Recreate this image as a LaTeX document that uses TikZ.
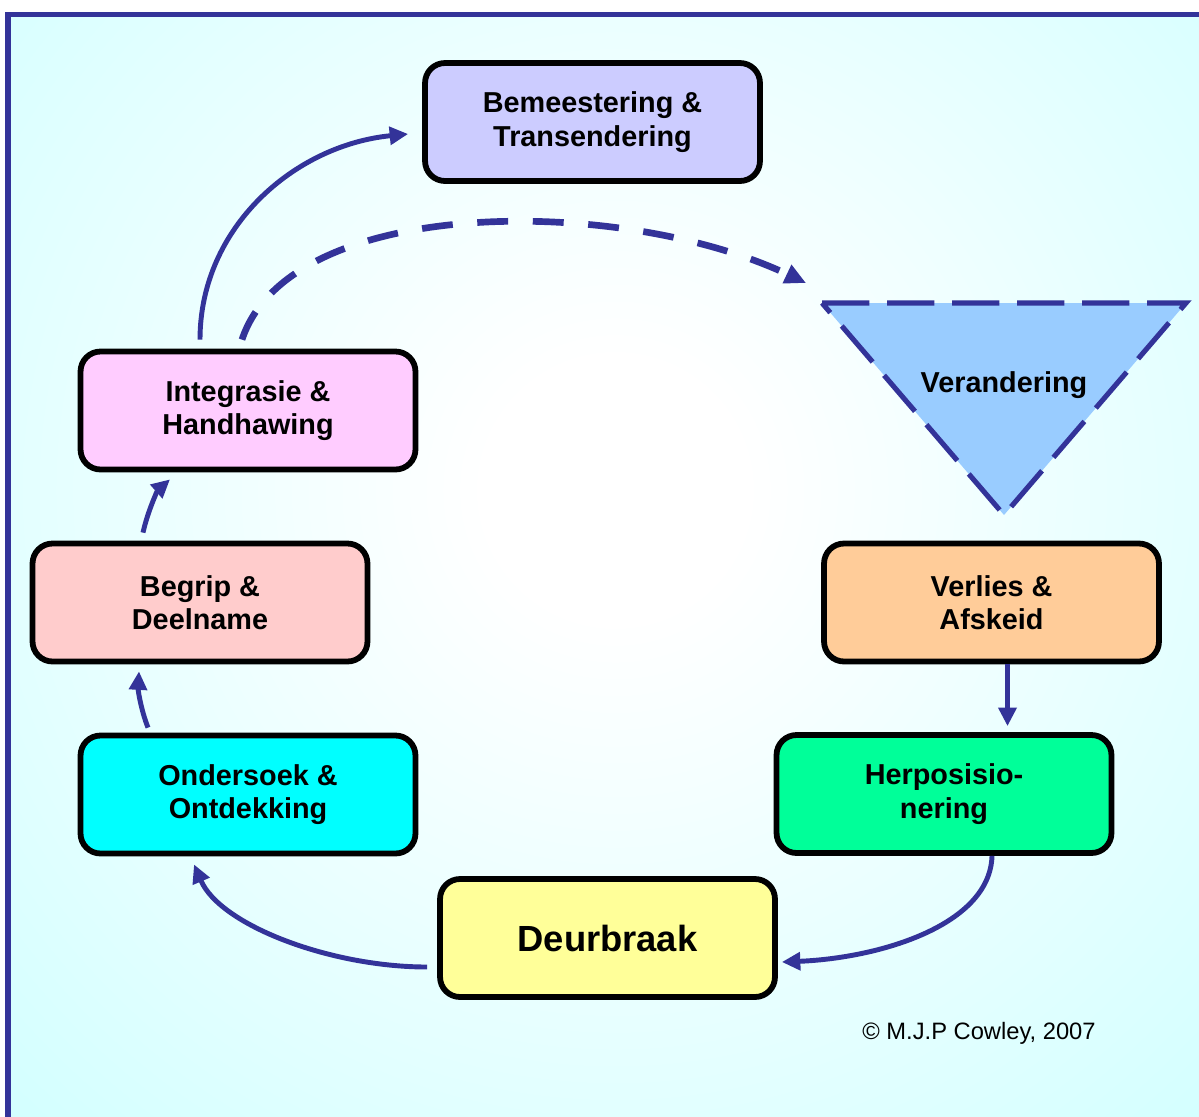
\documentclass[tikz,border=0pt]{standalone}
\usepackage{fontspec}
\setmainfont{Liberation Sans}
\usetikzlibrary{arrows.meta,calc}

\definecolor{ink}{HTML}{333399}
\definecolor{bgcyan}{HTML}{CCFFFF}
\definecolor{cBem}{HTML}{CCCCFF}
\definecolor{cInt}{HTML}{FFCCFF}
\definecolor{cBeg}{HTML}{FFCCCC}
\definecolor{cOnd}{HTML}{00FFFF}
\definecolor{cDeu}{HTML}{FFFF99}
\definecolor{cHer}{HTML}{00FF99}
\definecolor{cVer}{HTML}{FFCC99}
\definecolor{cTri}{HTML}{99CCFF}

% soft white glow in the middle of the cyan backdrop
\pgfdeclareradialshading{bgglow}{\pgfpointorigin}{%
  color(0bp)=(white); color(5bp)=(white); color(38bp)=(bgcyan); color(50bp)=(bgcyan)}

\begin{document}
\begin{tikzpicture}[x=0.02cm,y=-0.02cm,
  stage/.style={draw=black, line width=3.3pt, rounded corners=0.4cm,
    minimum width=6.7cm, minimum height=2.36cm, inner sep=0pt,
    align=center, font={\fontsize{16.4}{19}\selectfont\bfseries}},
  flow/.style={draw=ink, line width=2.8pt,
    -{Triangle[length=10.5pt,width=10pt]}},
  dashflow/.style={flow, line width=3.8pt, dash pattern=on 17.6pt off 14pt,
    -{Triangle[length=12pt,width=11pt]}}]

\clip (0,0) rectangle (1199,1116);
\path[fill=white] (0,0) rectangle (1199,1116);

% framed backdrop
\begin{scope}
  \clip (8,14.5) rectangle (1240,1150);
  \shade[shading=bgglow] (-35,-160) rectangle (1265,1140);
\end{scope}
\draw[ink, line width=3.4pt] (8,14.5) rectangle (1240,1150);

% stages
\node[stage, fill=cBem] (bem) at (592.5,122) {Bemeestering \&\\Transendering};
\node[stage, fill=cInt] (integ) at (248,410.5) {Integrasie \&\\Handhawing};
\node[stage, fill=cBeg] (begrip) at (200,602.5) {Begrip \&\\Deelname};
\node[stage, fill=cOnd] (onders) at (248,794.5) {Ondersoek \&\\Ontdekking};
\node[stage, fill=cDeu, font={\fontsize{20.7}{24}\selectfont\bfseries}] (deur) at (607.5,938) {Deurbraak};
\node[stage, fill=cHer] (herp) at (944,794) {Herposisio-\\nering};
\node[stage, fill=cVer] (verlies) at (991.5,602.5) {Verlies \&\\Afskeid};

% change triangle
\coordinate (tA) at (822,303);
\coordinate (tB) at (1186,303);
\coordinate (tC) at (1004,515);
\path[fill=cTri] (tA) -- (tB) -- (tC) -- cycle;
\draw[ink, line width=2.9pt, dash pattern=on 27pt off 10pt] (tA) -- (tB) -- (tC) -- cycle;
\node[font={\fontsize{16.4}{19}\selectfont\bfseries}] (vera) at (1004,385) {Verandering};

% connectors
\coordinate (dashend) at (806,283);
\draw[flow] ($(integ.north)+(-48,-9)$) .. controls (200,227) and (295,145) .. ($(bem.west)+(-14,12)$);
\draw[dashflow] ($(integ.north)+(-6,-9)$) .. controls (290,195) and (620,195) .. (dashend);
\draw[flow] ($(verlies.south)+(16,0)$) -- ($(herp.north)+(63.5,-6)$);
\draw[flow] ($(herp.south)+(48,0)$) .. controls (990,925) and (880,958) .. ($(deur.east)+(4,24)$);
\draw[flow] ($(deur.west)+(-10,29)$) .. controls (330,967) and (220,925) .. ($(onders.south)+(-54,8)$);
\draw[flow] ($(onders.north)+(-100,-5)$) .. controls (141,710) and (138,690) .. ($(begrip.south)+(-61,7)$);
\draw[flow] ($(begrip.north)+(-57,-8)$) .. controls (148,510) and (158,490) .. ($(integ.south)+(-78,7)$);

% credit line
\node[font={\fontsize{13.5}{16}\selectfont}] (credit) at (979,1033) {© M.J.P Cowley, 2007};
\end{tikzpicture}
\end{document}
